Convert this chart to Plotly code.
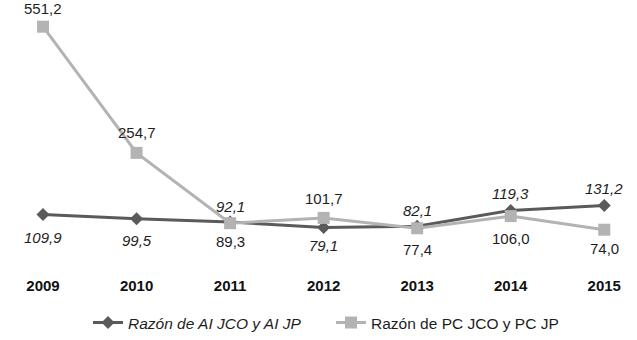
import plotly.graph_objects as go

# Ratios by year
years = ["2009", "2010", "2011", "2012", "2013", "2014", "2015"]
ai_ratio = [109.9, 99.5, 92.1, 79.1, 82.1, 119.3, 131.2]
pc_ratio = [551.2, 254.7, 89.3, 101.7, 77.4, 106.0, 74.0]

# Label offset (pixels, positive = above the point)
ai_shift = [-23, -22, 16, -18, 16, 17, 17]
pc_shift = [18, 20, -18, 19, -21, -22, -19]


def fmt(v):
    return f"{v:.1f}".replace(".", ",")


xs = list(range(len(years)))
font = "Liberation Sans, Arial, sans-serif"

fig = go.Figure()
fig.add_trace(go.Scatter(
    x=xs, y=ai_ratio, mode="lines+markers",
    name="<i>Razón de AI JCO y AI JP</i>",
    line=dict(color="#5a5a5a", width=3),
    marker=dict(symbol="diamond", size=10, color="#5a5a5a"),
    cliponaxis=False,
))
fig.add_trace(go.Scatter(
    x=xs, y=pc_ratio, mode="lines+markers",
    name="Razón de PC JCO y PC JP",
    line=dict(color="#b3b3b3", width=3),
    marker=dict(symbol="square", size=12, color="#b3b3b3"),
    cliponaxis=False,
))

for x, v, s in zip(xs, ai_ratio, ai_shift):
    fig.add_annotation(x=x, y=v, text=f"<i>{fmt(v)}</i>", showarrow=False,
                       yshift=s, font=dict(family=font, size=15, color="#1e1e1e"))
for x, v, s in zip(xs, pc_ratio, pc_shift):
    fig.add_annotation(x=x, y=v, text=fmt(v), showarrow=False,
                       yshift=s, font=dict(family=font, size=15, color="#1e1e1e"))

fig.update_layout(
    width=637, height=340,
    margin=dict(l=0, r=0, t=0, b=70),
    paper_bgcolor="white", plot_bgcolor="white",
    font=dict(family=font, color="#1e1e1e"),
    xaxis=dict(
        range=[-0.46, 6.35], tickmode="array", tickvals=xs,
        ticktext=[f"<b>{y}</b>" for y in years],
        tickfont=dict(size=15, color="#111111"),
        ticklabelstandoff=7,
        showgrid=False, zeroline=False, showline=False, ticks="",
    ),
    yaxis=dict(range=[-16, 614], visible=False, showgrid=False, zeroline=False),
    legend=dict(
        orientation="h", x=88 / 637, xanchor="left", y=-0.205, yanchor="middle",
        font=dict(size=15.5, color="#1e1e1e"), itemwidth=30,
        entrywidth=198, entrywidthmode="pixels",
    ),
    showlegend=True,
)

fig.write_html("out.html")
